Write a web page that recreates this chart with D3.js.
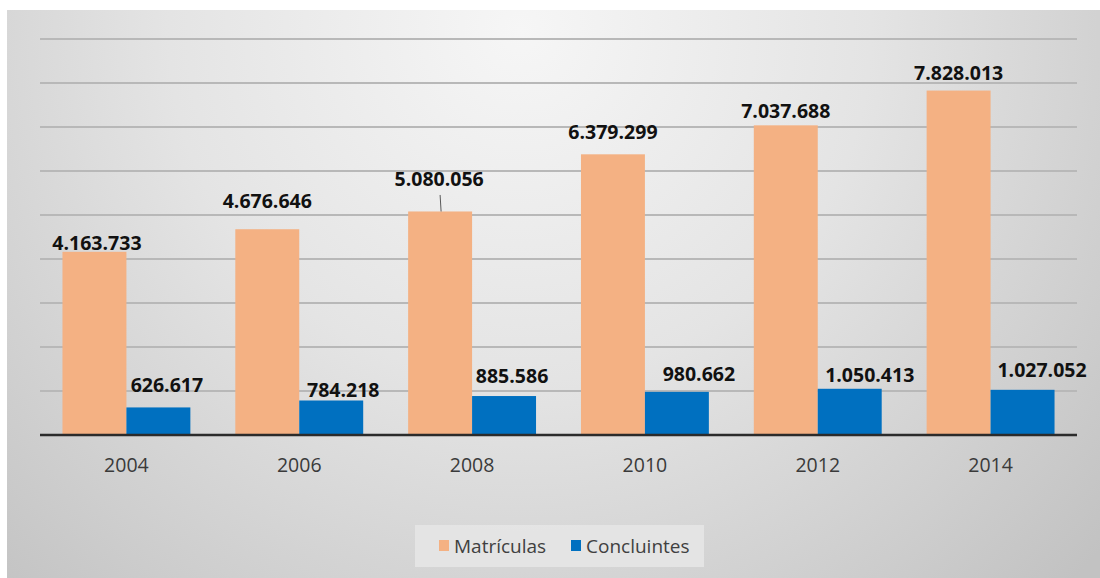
<!DOCTYPE html>
<html><head><meta charset="utf-8">
<script src="https://cdn.jsdelivr.net/npm/d3@7"></script>
<style>html,body{margin:0;padding:0;background:#fff;}svg{display:block;}</style>
</head><body>
<svg id="chart" width="1100" height="578"></svg>
<script>
// ---- data ----
const categories = ["2004", "2006", "2008", "2010", "2012", "2014"];
const matriculas = [4163733, 4676646, 5080056, 6379299, 7037688, 7828013];
const concluintes = [626617, 784218, 885586, 980662, 1050413, 1027052];
const seriesNames = ["Matrículas", "Concluintes"];
const yTicks = [0, 1e6, 2e6, 3e6, 4e6, 5e6, 6e6, 7e6, 8e6, 9e6];

// label placement tweaks (dx, baseline offset from bar top), as in the source picture
const labelAdjM = [[2.5, -2], [0, -21], [-1, -25.5], [0, -15], [0, -7.5], [0, -10.5]];
const labelAdjC = [[8.5, -15.5], [12, -3.5], [8, -13], [22, -11], [20, -7], [19.5, -13]];
const leaderM = [false, false, true, false, false, false];

const colors = ["#F4B183", "#0070C0"];
const fmt = v => d3.format(",")(v).replace(/,/g, ".");

const svg = d3.select("#chart");
const defs = svg.append("defs");
const grad = defs.append("radialGradient").attr("id", "bg")
  .attr("gradientUnits", "userSpaceOnUse")
  .attr("cx", 520).attr("cy", 30).attr("r", 780);
grad.append("stop").attr("offset", "0").attr("stop-color", "#f6f6f6");
grad.append("stop").attr("offset", "0.45").attr("stop-color", "#e4e4e4");
grad.append("stop").attr("offset", "1").attr("stop-color", "#c2c2c2");

svg.append("rect").attr("x", 7).attr("y", 10).attr("width", 1093).attr("height", 568)
  .attr("fill", "url(#bg)");

const x0 = d3.scaleBand().domain(categories).range([40, 1077]).paddingInner(0.26).paddingOuter(0.13);
const x1 = d3.scaleBand().domain(seriesNames).range([0, x0.bandwidth()]);
const y = d3.scaleLinear().domain([0, 9e6]).range([435, 39]);

// gridlines
svg.append("g").selectAll("line").data(yTicks.slice(1)).join("line")
  .attr("x1", 40).attr("x2", 1077)
  .attr("y1", d => y(d)).attr("y2", d => y(d))
  .attr("stroke", "#b8b8b8").attr("stroke-width", 2);

const data = categories.map((c, i) => ({ c, i, vals: [matriculas[i], concluintes[i]] }));

const groups = svg.append("g").selectAll("g").data(data).join("g")
  .attr("transform", d => `translate(${x0(d.c)},0)`);

groups.selectAll("rect").data(d => d.vals.map((v, k) => ({ v, k }))).join("rect")
  .attr("x", d => x1(seriesNames[d.k]))
  .attr("width", x1.bandwidth())
  .attr("y", d => y(d.v))
  .attr("height", d => y(0) - y(d.v))
  .attr("fill", d => colors[d.k]);

// baseline
svg.append("line").attr("x1", 40).attr("x2", 1077).attr("y1", y(0)).attr("y2", y(0))
  .attr("stroke", "#2b2b2b").attr("stroke-width", 2.5);

// x axis labels
const xAxis = d3.axisBottom(x0).tickSize(0).tickPadding(0);
const gx = svg.append("g").attr("transform", `translate(0,${y(0)})`).call(xAxis);
gx.select(".domain").remove();
gx.selectAll("text").attr("dy", null).attr("y", 37)
  .attr("font-family", "'Open Sans', sans-serif").attr("font-size", 19.5).attr("fill", "#3a3a3a");

// data labels
const labelFont = "'Open Sans', sans-serif";
groups.each(function (d) {
  const g = d3.select(this);
  d.vals.forEach((v, k) => {
    const adj = (k === 0 ? labelAdjM : labelAdjC)[d.i];
    const cx = x1(seriesNames[k]) + x1.bandwidth() / 2 + adj[0];
    const by = y(v) + adj[1];
    g.append("text").attr("x", cx).attr("y", by)
      .attr("text-anchor", "middle")
      .attr("font-family", labelFont).attr("font-weight", 700).attr("font-size", 19.5)
      .attr("fill", "#111").text(fmt(v));
    if (k === 0 && leaderM[d.i]) {
      g.append("line")
        .attr("x1", x1(seriesNames[k]) + x1.bandwidth() / 2).attr("x2", x1(seriesNames[k]) + x1.bandwidth() / 2 + 1)
        .attr("y1", by + 9).attr("y2", y(v))
        .attr("stroke", "#595959").attr("stroke-width", 1);
    }
  });
});

// legend
const lg = svg.append("g");
lg.append("rect").attr("x", 415).attr("y", 525).attr("width", 289).attr("height", 42)
  .attr("fill", "#e5e5e5").attr("opacity", 0.9);
const legendX = [439, 571];
seriesNames.forEach((n, k) => {
  lg.append("rect").attr("x", legendX[k]).attr("y", 540).attr("width", 10).attr("height", 11)
    .attr("fill", colors[k]);
  lg.append("text").attr("x", legendX[k] + 15).attr("y", 553)
    .attr("font-family", "'Open Sans', sans-serif").attr("font-size", 19).attr("fill", "#404040")
    .text(n);
});
</script>
</body></html>
